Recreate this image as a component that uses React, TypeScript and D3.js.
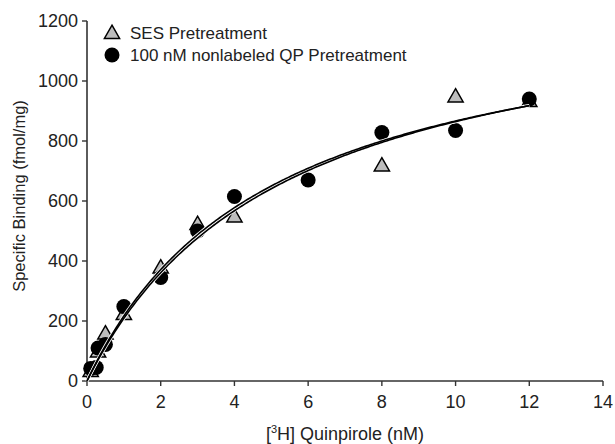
import React from "react";
import * as d3 from "d3";

// binding data
const sesX = [0.1, 0.3, 0.5, 1, 2, 3, 4, 8, 10, 12];
const sesY = [30, 95, 155, 220, 375, 520, 545, 715, 945, 930];
const qpX = [0.1, 0.25, 0.3, 0.5, 1, 2, 3, 4, 6, 8, 10, 12];
const qpY = [42, 45, 110, 122, 248, 345, 500, 615, 670, 828, 835, 940];

// fitted one-site curves (Bmax, Kd)
const sesFit = { bmax: 1300, kd: 5.0 };
const qpFit = { bmax: 1328, kd: 5.36 };

const xTicks = [0, 2, 4, 6, 8, 10, 12, 14];
const yTicks = [0, 200, 400, 600, 800, 1000, 1200];

const W = 615;
const H = 444;
const margin = { top: 21, right: 12, bottom: 63, left: 87 };
const font = "'Liberation Sans', Arial, sans-serif";

export default function App() {
  const x = d3.scaleLinear().domain([0, 14]).range([margin.left, W - margin.right]);
  const y = d3.scaleLinear().domain([0, 1200]).range([H - margin.bottom, margin.top]);

  const fitLine = (p: { bmax: number; kd: number }) => {
    const xs = d3.range(0, 12.001, 0.05);
    return (
      d3
        .line<number>()
        .x((d) => x(d))
        .y((d) => y((p.bmax * d) / (p.kd + d)))(xs) || ""
    );
  };

  const tri = d3.symbol().type(d3.symbolTriangle).size(100);
  const y0 = y(0);
  const fits = [sesFit, qpFit];

  return (
    <svg width={W} height={H} style={{ position: "absolute", left: 0, top: 0 }} fontFamily={font}>
      <rect width={W} height={H} fill="#fff" />
      {/* axes */}
      <line x1={x(0)} x2={x(0)} y1={y(1200)} y2={y0} stroke="#333" strokeWidth={1.6} />
      <line x1={x(0)} x2={x(14)} y1={y0} y2={y0} stroke="#333" strokeWidth={1.6} />
      {yTicks.map((t) => (
        <g key={"y" + t}>
          <line x1={x(0) - 5} x2={x(0)} y1={y(t)} y2={y(t)} stroke="#333" strokeWidth={1.4} />
          <text x={x(0) - 9} y={y(t)} dy="0.36em" textAnchor="end" fontSize={18} fill="#222">
            {t}
          </text>
        </g>
      ))}
      {xTicks.map((t) => (
        <g key={"x" + t}>
          <line x1={x(t)} x2={x(t)} y1={y0} y2={y0 + 5} stroke="#333" strokeWidth={1.4} />
          <text x={x(t)} y={y0 + 27} textAnchor="middle" fontSize={18} fill="#222">
            {t}
          </text>
        </g>
      ))}
      <text
        transform={`translate(25,${(y(0) + y(1200)) / 2 - 5}) rotate(-90)`}
        textAnchor="middle"
        fontSize={16.5}
        fill="#222"
      >
        Specific Binding (fmol/mg)
      </text>
      <text x={345} y={440} textAnchor="middle" fontSize={18} fill="#222">
        [<tspan dy={-7} fontSize={11}>3</tspan>
        <tspan dy={7}>H] Quinpirole (nM)</tspan>
      </text>

      {/* points */}
      {sesX.map((d, i) => (
        <path
          key={"t" + i}
          d={tri() || ""}
          transform={`translate(${x(d)},${y(sesY[i])})`}
          fill="#bdbdbd"
          stroke="#000"
          strokeWidth={1.5}
        />
      ))}
      {qpX.map((d, i) => (
        <circle key={"c" + i} cx={x(d)} cy={y(qpY[i])} r={7.5} fill="#000" />
      ))}

      {/* fit curves with white halo */}
      {fits.map((p, i) => (
        <path key={"h" + i} d={fitLine(p)} fill="none" stroke="#fff" strokeWidth={3.2} />
      ))}
      {fits.map((p, i) => (
        <path key={"f" + i} d={fitLine(p)} fill="none" stroke="#000" strokeWidth={1.6} />
      ))}

      {/* legend */}
      <path d={tri() || ""} transform="translate(112,34)" fill="#bdbdbd" stroke="#000" strokeWidth={1.5} />
      <text x={130} y={39} fontSize={17} fill="#222">
        SES Pretreatment
      </text>
      <circle cx={112} cy={55} r={7.5} fill="#000" />
      <text x={130} y={61} fontSize={17} fill="#222">
        100 nM nonlabeled QP Pretreatment
      </text>
    </svg>
  );
}
